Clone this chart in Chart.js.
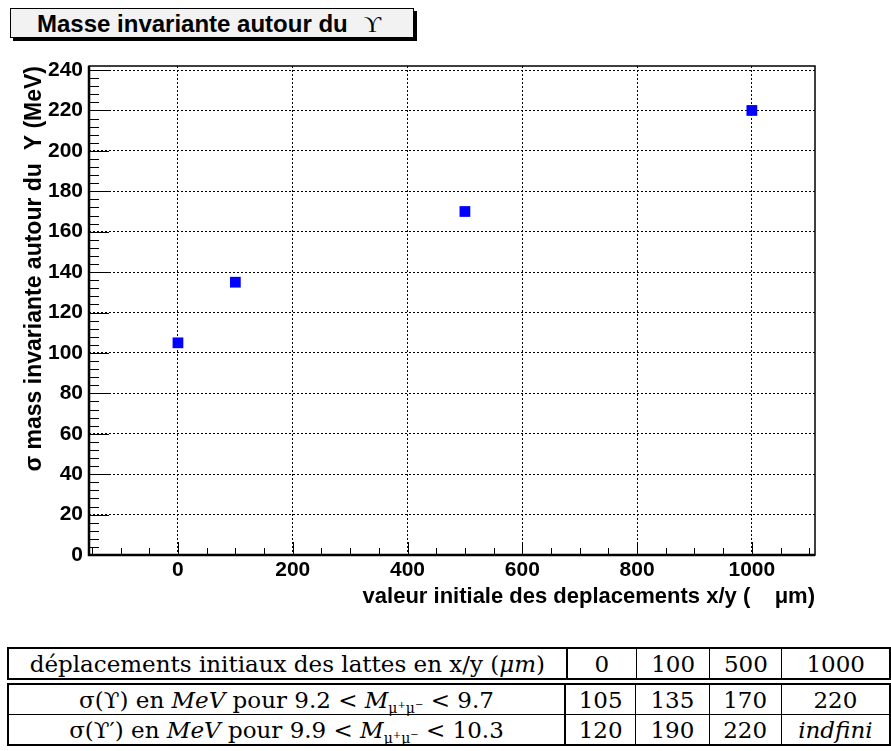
<!DOCTYPE html>
<html>
<head>
<meta charset="utf-8">
<script src="https://cdn.jsdelivr.net/npm/chart.js@4"></script>
<style>
  body { margin:0; background:#fff; width:891px; height:751px; overflow:hidden; }
  #wrap { position:absolute; left:0; top:0; width:891px; height:625px; }
  #title {
    position:absolute; left:10px; top:8px; width:404px; height:30px;
    border:1px solid #000; background:#f2f2f2; box-shadow:3px 3px 0 #000;
    font:bold 24px "Liberation Sans", Arial, sans-serif; line-height:29px;
    padding-left:26px; box-sizing:border-box;
  }
  #title .g { font:24px "Liberation Serif", serif; margin-left:16px; }
  table {
    position:absolute; left:7px; border-collapse:collapse;
    font:23px "DejaVu Serif", "Liberation Serif", serif;
    border:2.5px solid #000;
  }
  #head { top:647px; }
  #body { top:683px; }
  td { border:1.5px solid #000; height:29px; padding:0; text-align:center; white-space:nowrap; line-height:28px; }
  td:first-child { border-right-width:2.5px; }
  sub { font-size:14px; vertical-align:-5px; line-height:0; }
  sup { font-size:10px; vertical-align:5px; line-height:0; }
</style>
</head>
<body>
<div id="title">Masse invariante autour du<span class="g">ϒ</span></div>
<div id="wrap"><canvas id="c"></canvas></div>
<table id="head"></table>
<table id="body"></table>
<script>
// Data
const deplacements = [0, 100, 500, 1000];
const sigmaUpsilon = [105, 135, 170, 220];
const sigmaUpsilon2 = ['120', '190', '220', '<i>indfini</i>'];
const xTicks = [0, 200, 400, 600, 800, 1000];
const yTicks = [0, 20, 40, 60, 80, 100, 120, 140, 160, 180, 200, 220, 240];
const rowLabels = [
  'déplacements initiaux des lattes en x/y (<i>μm</i>)',
  'σ(ϒ) en <i>MeV</i> pour 9.2 &lt; <i>M</i><sub>μ<sup>+</sup>μ<sup>−</sup></sub> &lt; 9.7',
  'σ(ϒ′) en <i>MeV</i> pour 9.9 &lt; <i>M</i><sub>μ<sup>+</sup>μ<sup>−</sup></sub> &lt; 10.3'
];
const colWidths = [558, 70, 73, 72, 108];

// table under the chart
const rows = [deplacements.map(String), sigmaUpsilon.map(String), sigmaUpsilon2];
rows.forEach((vals, r) => {
  const tr = document.createElement('tr');
  [rowLabels[r]].concat(vals).forEach((v, i) => {
    const td = document.createElement('td');
    td.style.width = colWidths[i] + 'px';
    td.innerHTML = v;
    tr.appendChild(td);
  });
  document.getElementById(r === 0 ? 'head' : 'body').appendChild(tr);
});

// inward ticks + frame, ROOT style
const frame = {
  id: 'frame',
  afterDraw(chart) {
    const {ctx, chartArea: a, scales: {x, y}} = chart;
    ctx.save();
    ctx.strokeStyle = '#000';
    ctx.lineWidth = 1;
    ctx.beginPath();
    for (let v = 0; v <= 240; v += 4) {
      const py = Math.round(y.getPixelForValue(v)) + 0.5;
      const len = v % 20 === 0 ? 20 : 10;
      ctx.moveTo(a.left, py); ctx.lineTo(a.left + len, py);
    }
    for (let v = -150; v <= 1100; v += 50) {
      const px = Math.round(x.getPixelForValue(v)) + 0.5;
      const len = v % 200 === 0 ? 13 : 7;
      ctx.moveTo(px, a.bottom); ctx.lineTo(px, a.bottom - len);
    }
    ctx.stroke();
    ctx.lineWidth = 1.5;
    ctx.strokeRect(a.left, a.top, a.right - a.left, a.bottom - a.top);
    ctx.lineWidth = 2.5;
    ctx.beginPath();
    ctx.moveTo(a.left, a.top); ctx.lineTo(a.left, a.bottom); ctx.lineTo(a.right, a.bottom);
    ctx.stroke();
    ctx.restore();
  }
};

const tickFont = {family: '"Liberation Sans", Arial, sans-serif', size: 21, weight: 'bold'};

new Chart(document.getElementById('c'), {
  type: 'scatter',
  data: {
    datasets: [{
      data: deplacements.map((d, i) => ({x: d, y: sigmaUpsilon[i]})),
      pointStyle: 'rect',
      pointRadius: 7.6,
      pointHoverRadius: 7.6,
      backgroundColor: '#0000ff',
      borderWidth: 0
    }]
  },
  options: {
    responsive: true,
    maintainAspectRatio: false,
    animation: false,
    events: [],
    layout: {padding: {left: 0, top: 66, right: 76, bottom: 10}},
    plugins: {legend: {display: false}, tooltip: {enabled: false}},
    scales: {
      x: {
        type: 'linear', min: -155, max: 1110,
        afterBuildTicks: s => { s.ticks = xTicks.map(v => ({value: v})); },
        afterFit: s => { s.height = 60; },
        grid: {color: '#000', lineWidth: 1, drawTicks: false},
        border: {display: false, dash: [2, 2]},
        ticks: {color: '#000', font: tickFont, padding: 3, maxRotation: 0, autoSkip: false,
                callback: v => String(v)},
        title: {
          display: true, align: 'end', color: '#000',
          font: {...tickFont, size: 22},
          text: 'valeur initiale des deplacements x/y (    μm)',
          padding: {top: 0, bottom: 5}
        }
      },
      y: {
        type: 'linear', min: 0, max: 242,
        afterBuildTicks: s => { s.ticks = yTicks.map(v => ({value: v})); },
        afterFit: s => { s.width = 89; },
        grid: {color: '#000', lineWidth: 1, drawTicks: false},
        border: {display: false, dash: [2, 2]},
        ticks: {color: '#000', font: tickFont, padding: 6, autoSkip: false,
                callback: v => String(v)},
        title: {
          display: true, align: 'end', color: '#000',
          font: {...tickFont, size: 23},
          text: 'σ mass invariante autour du  Υ (MeV)',
          padding: {top: 21, bottom: 0}
        }
      }
    }
  },
  plugins: [frame]
});
</script>
</body>
</html>
